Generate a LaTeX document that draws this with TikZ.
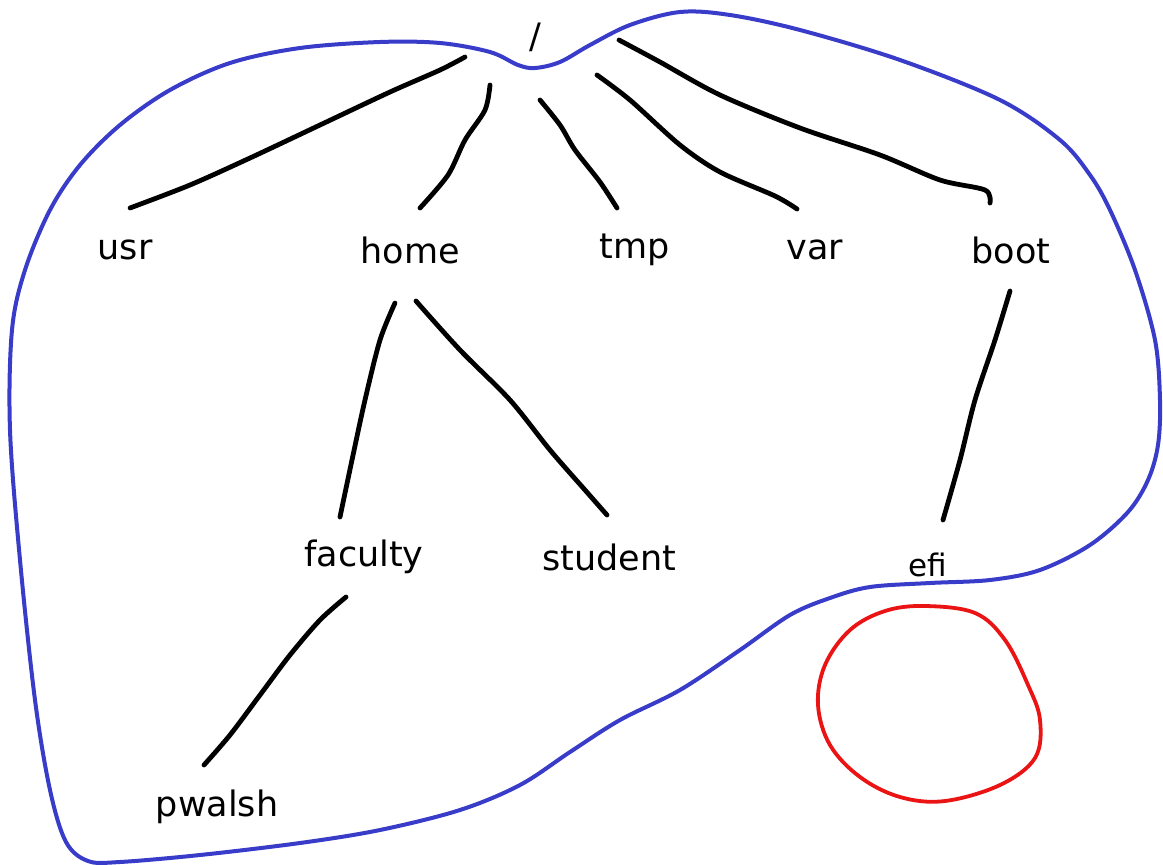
\documentclass[tikz,border=0pt]{standalone}
\usepackage{fontspec}
\setmainfont{DejaVu Sans}
\begin{document}
\begin{tikzpicture}[x=1pt,y=-1pt,
  lbl/.style={font=\fontsize{35}{40}\selectfont, inner sep=0pt},
  edge/.style={line width=4.8pt, line cap=round, line join=round, black},
  outline/.style={line width=4pt, line join=round, color={rgb,255:red,56;green,60;blue,200}},
  redring/.style={line width=3.8pt, line join=round, color={rgb,255:red,235;green,20;blue,20}}]
\useasboundingbox (0,0) rectangle (1163,865);

% blue outline
\draw[outline] plot[smooth cycle, tension=0.55] coordinates {
 (535,68) (560,62) (590,45) (630,25) (680,12) (730,15) (800,30) (900,60)
 (1000,100) (1060,140) (1090,175) (1110,210) (1135,270) (1155,340) (1160,400)
 (1158,445) (1148,480) (1128,512) (1090,545) (1040,570) (990,580) (930,583)
 (870,587) (830,598) (790,615) (740,650) (680,690) (620,720) (570,752)
 (520,785) (460,810) (380,830) (300,843) (200,855) (120,862) (88,861)
 (66,842) (50,790) (35,700) (20,560) (10,430) (12,330) (25,270) (50,210)
 (80,165) (120,125) (170,90) (230,63) (300,48) (380,42) (440,43) (490,52) (518,65)};

% red ring
\draw[redring] plot[smooth cycle, tension=0.6] coordinates {
 (925,606) (975,613) (1005,640) (1028,685) (1040,720) (1035,758) (1000,785)
 (945,801) (900,797) (860,777) (830,745) (818,705) (825,665) (850,630) (885,611)};

% labels
\node[lbl] (root) at (535,37) {/};
\node[lbl] (usr) at (125,250) {usr};
\node[lbl] (home) at (410,250) {home};
\node[lbl] (tmp) at (635,250) {tmp};
\node[lbl] (var) at (815,250) {var};
\node[lbl] (boot) at (1011,250) {boot};
\node[lbl] (faculty) at (364,557) {faculty};
\node[lbl] (student) at (609,557) {student};
\node[lbl, font=\fontsize{31}{36}\selectfont] (efi) at (928,565) {efi};
\node[lbl] (pwalsh) at (217,807) {pwalsh};

% connector end points
\coordinate (r1) at (465,57);  \coordinate (u1) at (130,208);
\coordinate (r2) at (490,85);  \coordinate (h1) at (420,208);
\coordinate (r3) at (540,100); \coordinate (t1) at (617,208);
\coordinate (r4) at (597,75);  \coordinate (v1) at (797,209);
\coordinate (r5) at (619,40);  \coordinate (b1) at (990,203);
\coordinate (h2) at (395,303); \coordinate (f1) at (340,517);
\coordinate (h3) at (416,301); \coordinate (s1) at (607,515);
\coordinate (b2) at (1010,291);\coordinate (e1) at (943,520);
\coordinate (f2) at (346,597); \coordinate (p1) at (204,765);

\draw[edge] plot[smooth, tension=0.5] coordinates {(r1) (440,70) (390,92) (320,125) (250,158) (190,185) (u1)};
\draw[edge] plot[smooth, tension=0.5] coordinates {(r2) (485,110) (465,140) (448,175) (h1)};
\draw[edge] plot[smooth, tension=0.5] coordinates {(r3) (560,125) (575,150) (600,182) (t1)};
\draw[edge] plot[smooth, tension=0.5] coordinates {(r4) (630,100) (680,145) (720,172) (775,196) (v1)};
\draw[edge] plot[smooth, tension=0.5] coordinates {(r5) (660,62) (720,95) (800,128) (880,155) (940,180) (985,190) (b1)};
\draw[edge] plot[smooth, tension=0.5] coordinates {(h2) (380,340) (365,400) (352,460) (f1)};
\draw[edge] plot[smooth, tension=0.5] coordinates {(h3) (460,350) (510,400) (550,450) (585,490) (s1)};
\draw[edge] plot[smooth, tension=0.5] coordinates {(b2) (995,340) (975,400) (960,460) (e1)};
\draw[edge] plot[smooth, tension=0.5] coordinates {(f2) (320,620) (290,655) (260,695) (230,735) (p1)};
\end{tikzpicture}
\end{document}
